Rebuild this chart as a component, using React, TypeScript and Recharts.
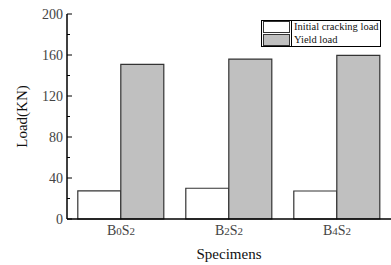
import { Bar, BarChart, Label, XAxis, YAxis } from "recharts";

// specimen names, digits are drawn as subscripts
const specimens = ["B0S2", "B2S2", "B4S2"];
const crackingLoad = [27.5, 30, 27.3];
const yieldLoad = [150.8, 156, 159.7];
const yTicks = [0, 20, 40, 60, 80, 100, 120, 140, 160, 180, 200];

const FONT = "Liberation Serif, Times New Roman, DejaVu Serif, serif";
const GRAY = "#c0c0c0";

const data = specimens.map((name, i) => ({
  name,
  cracking: crackingLoad[i],
  yield: yieldLoad[i],
}));

const YTick = (props: any) => {
  const { x, y, payload } = props;
  const major = payload.value % 40 === 0;
  return (
    <g>
      <line x1={x} x2={x + (major ? 5 : 3)} y1={y} y2={y} stroke="#000" strokeWidth={1} />
      {major && (
        <text x={x - 4} y={y} dy={5} textAnchor="end" fontSize={14} style={{ fontFamily: FONT }} fill="#444">
          {payload.value}
        </text>
      )}
    </g>
  );
};

const XTick = (props: any) => {
  const { x, y, payload } = props;
  const parts = String(payload.value).match(/[A-Z]+|\d+/g) || [];
  return (
    <text x={x} y={y + 16} textAnchor="middle" style={{ fontFamily: FONT }} fill="#444" fontSize={14}>
      {parts.map((p, i) =>
        /\d/.test(p) ? (
          <tspan key={i} fontSize={11}>{p}</tspan>
        ) : (
          <tspan key={i}>{p}</tspan>
        )
      )}
    </text>
  );
};

const LegendBox = () => {
  const rows = [
    { label: "Initial cracking load", color: "#fff" },
    { label: "Yield load", color: GRAY },
  ];
  return (
    <div
      style={{
        position: "absolute",
        left: 261,
        top: 20,
        border: "1px solid #000",
        width: 118,
        fontFamily: FONT,
        fontSize: 10.5,
        lineHeight: "12px",
        background: "#fff",
      }}
    >
      {rows.map((r) => (
        <div key={r.label} style={{ display: "flex", alignItems: "center", height: 12.5 }}>
          <span
            style={{
              display: "inline-block",
              width: 25,
              height: 10,
              margin: "0 1px",
              background: r.color,
              border: "1px solid #333",
            }}
          />
          <span style={{ borderLeft: "1px solid #000", paddingLeft: 2, height: 12.5, whiteSpace: "nowrap", color: "#111" }}>
            {r.label}
          </span>
        </div>
      ))}
    </div>
  );
};

export default function App() {
  return (
    <div style={{ position: "fixed", left: 0, top: 0, background: "#fff", fontFamily: FONT }}>
      <BarChart
        width={391}
        height={265}
        data={data}
        margin={{ top: 14, right: 0, left: 0, bottom: 0 }}
        barCategoryGap="10%"
        barGap={0}
      >
        <XAxis
          dataKey="name"
          height={46}
          tickLine={false}
          tickSize={0}
          tickMargin={0}
          axisLine={{ stroke: "#000", strokeWidth: 1.5 }}
          tick={<XTick />}
          interval={0}
        >
          <Label
            value="Specimens"
            position="insideBottom"
            offset={6}
            style={{ fontFamily: FONT, fontSize: 15, fill: "#111" }}
          />
        </XAxis>
        <YAxis
          width={67}
          domain={[0, 200]}
          ticks={yTicks}
          interval={0}
          tickSize={0}
          tickMargin={0}
          tickLine={false}
          axisLine={{ stroke: "#000", strokeWidth: 1.5 }}
          tick={<YTick />}
        >
          <Label
            content={(p: any) => {
              const vb = p.viewBox;
              const cx = vb.x + 22;
              const cy = vb.y + vb.height / 2;
              return (
                <text
                  x={cx}
                  y={cy}
                  transform={`rotate(-90 ${cx} ${cy})`}
                  textAnchor="middle"
                  dy={5}
                  style={{ fontFamily: FONT }}
                  fontSize={15}
                  fill="#111"
                >
                  Load(KN)
                </text>
              );
            }}
          />
        </YAxis>
        <Bar dataKey="cracking" fill="#fff" stroke="#333" strokeWidth={1.2} isAnimationActive={false} />
        <Bar dataKey="yield" fill={GRAY} stroke="#333" strokeWidth={1.2} isAnimationActive={false} />
      </BarChart>
      <LegendBox />
    </div>
  );
}
